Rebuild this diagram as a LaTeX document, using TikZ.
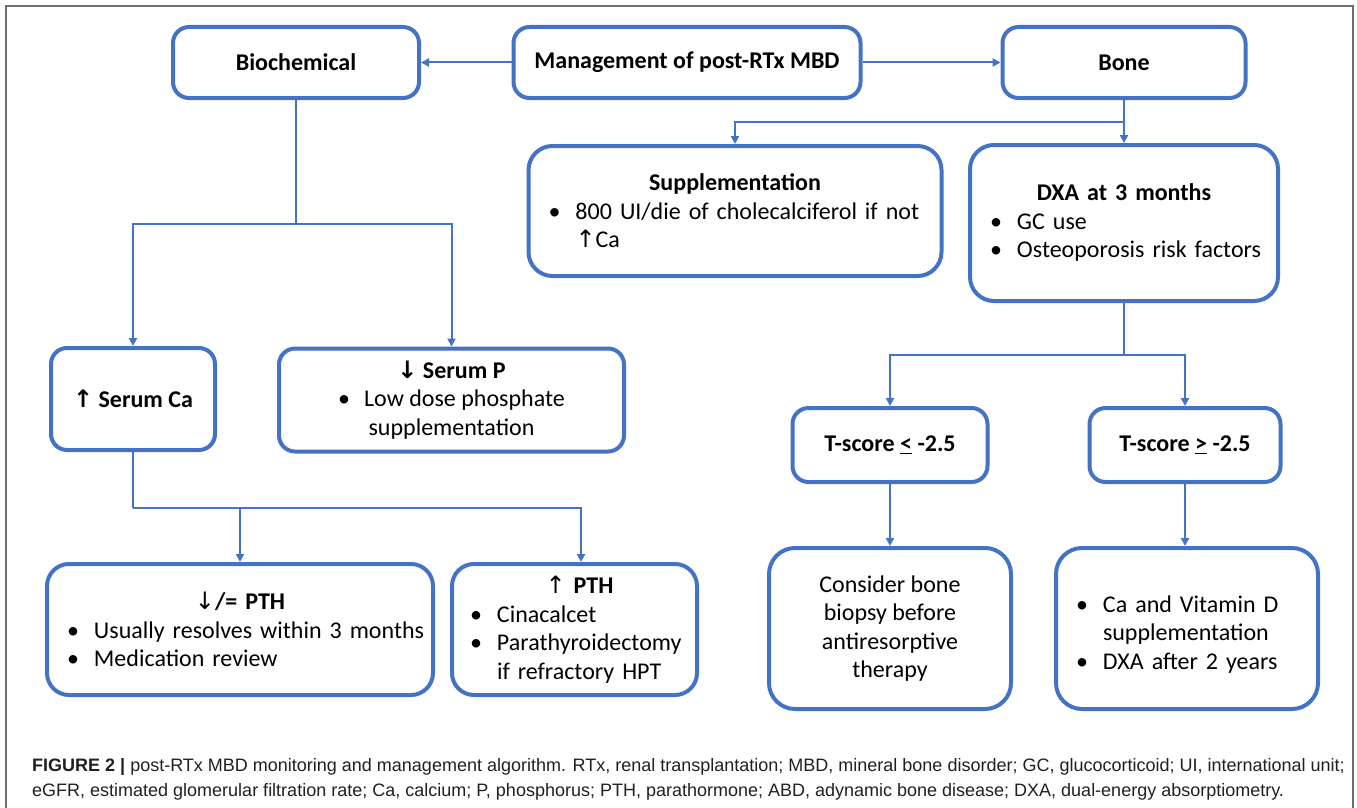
\documentclass[tikz,border=0pt]{standalone}
\usepackage{fontspec}
\setmainfont{Carlito}
\newfontfamily\arrowfont{DejaVu Sans}
\newfontfamily\capfont{Liberation Sans}
\usetikzlibrary{arrows.meta,positioning}

\definecolor{rtblue}{RGB}{68,114,196}
\definecolor{framegray}{RGB}{110,110,110}
\definecolor{capgray}{RGB}{35,31,32}

\newcommand{\arrup}{{\arrowfont\char"2191}}
\newcommand{\arrdn}{{\arrowfont\char"2193}}
\newcommand{\bul}[1]{\par\noindent\makebox[27pt][l]{\textbullet}\mbox{#1}}
\newcommand{\cont}[1]{\par\noindent\hspace*{27pt}\mbox{#1}}

\begin{document}
\begin{tikzpicture}[x=1pt, y=-1pt,
    box/.style={draw=rtblue, line width=4pt, rounded corners=16pt, fill=white, inner sep=0pt, align=center, font=\fontsize{24}{28.5}\selectfont},
    headbox/.style={box, font=\fontsize{24}{28.5}\selectfont\bfseries},
    listbox/.style={box, align=left, inner xsep=20pt},
    link/.style={draw=rtblue, line width=2pt},
    conn/.style={link, -{Triangle[length=8pt,width=8pt]}}]
    \useasboundingbox (0,0) rectangle (1357,808);
    \draw[framegray, line width=1.5pt] (6,808) -- (6,6) -- (1353,6) -- (1353,808);

    % top row
    \node[headbox, minimum width=246pt, minimum height=71pt] (bio) at (296,62.5) {Biochemical};
    \node[headbox, minimum width=347pt, minimum height=71pt] (mgmt) at (687,62.5) {Management of post-RTx MBD};
    \node[headbox, minimum width=243pt, minimum height=71pt] (bone) at (1124,62.5) {Bone};

    % bone branch
    \node[listbox, text width=373pt, minimum height=130pt, rounded corners=24pt] (supp) at (735,211) {{\centering\bfseries Supplementation\par}\bul{800 UI/die of cholecalciferol if not}\cont{\arrup Ca}};
    \node[listbox, text width=268pt, minimum height=156pt, rounded corners=24pt] (dxa) at (1124,223) {{\centering\bfseries DXA at 3 months\par}\bul{GC use}\bul{Osteoporosis risk factors}};
    \node[headbox, minimum width=195pt, minimum height=74pt] (tle) at (890,445) {T-score \underline{<} -2.5};
    \node[headbox, minimum width=191pt, minimum height=74pt] (tge) at (1185,445) {T-score \underline{>} -2.5};
    \node[box, minimum width=242pt, minimum height=161pt, rounded corners=26pt] (consider) at (890,628.5) {Consider bone\\biopsy before\\antiresorptive\\therapy};
    \node[listbox, text width=222pt, minimum height=161pt, rounded corners=26pt] (cavd) at (1187,628.5) {\bul{Ca and Vitamin D}\cont{supplementation}\bul{DXA after 2 years}};

    % biochemical branch
    \node[headbox, minimum width=164pt, minimum height=102pt] (serumca) at (133,399) {\arrup{} Serum Ca};
    \node[box, minimum width=345pt, minimum height=103pt] (serump) at (451.5,400) {{\bfseries\arrdn{} Serum P}\\\makebox[26pt][l]{\textbullet}Low dose phosphate\\supplementation};
    \node[listbox, text width=346pt, minimum height=131pt, rounded corners=22pt] (pthlow) at (240,629.5) {{\centering\arrdn{\bfseries /= PTH}\par}\bul{Usually resolves within 3 months}\bul{Medication review}};
    \node[listbox, text width=209pt, minimum height=131pt, inner xsep=18pt, rounded corners=22pt] (pthhigh) at (574.5,629.5) {{\centering\hspace*{10pt}\arrup{} {\bfseries PTH}\par}\bul{Cinacalcet}\bul{Parathyroidectomy}\cont{if refractory HPT}};

    % connectors
    \coordinate (bonesplit) at (1124,122);
    \coordinate (biosplit) at (296,224);
    \coordinate (casplit) at (133,508);
    \coordinate (dxasplit) at (1124,355);
    \draw[conn] (mgmt) -- (bio);
    \draw[conn] (mgmt) -- (bone);
    \draw[conn] (bone.south) -- (dxa.north);
    \draw[conn] (bonesplit) -| (supp.north);
    \draw[link] (bio.south) -- (biosplit);
    \draw[conn] (biosplit) -| (serumca.north);
    \draw[conn] (biosplit) -| (serump.north);
    \draw[link] (serumca.south) -- (casplit);
    \draw[conn] (casplit) -| (pthlow.north);
    \draw[conn] (casplit) -| ([xshift=6.5pt]pthhigh.north);
    \draw[link] (dxa.south) -- (dxasplit);
    \draw[conn] (dxasplit) -| (tle.north);
    \draw[conn] (dxasplit) -| (tge.north);
    \draw[conn] (tle) -- (consider);
    \draw[conn] (tge.south) -- (tge.south |- cavd.north);

    % caption
    \node[anchor=north west, inner sep=0pt, align=left, text=capgray, font=\capfont\fontsize{18}{25}\selectfont] (caption) at (32,758) {{\bfseries FIGURE 2 |} post-RTx MBD monitoring and management algorithm. RTx, renal transplantation; MBD, mineral bone disorder; GC, glucocorticoid; UI, international unit;\\eGFR, estimated glomerular filtration rate; Ca, calcium; P, phosphorus; PTH, parathormone; ABD, adynamic bone disease; DXA, dual-energy absorptiometry.};
\end{tikzpicture}
\end{document}
